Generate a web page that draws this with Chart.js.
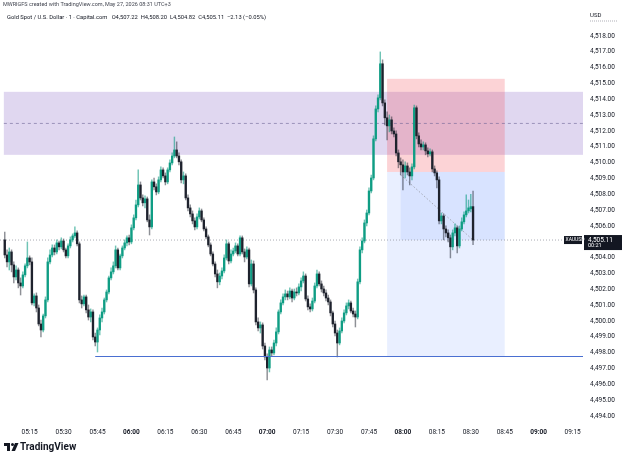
<!DOCTYPE html>
<html>
<head>
<meta charset="utf-8">
<title>XAUUSD 1m</title>
<script src="https://cdn.jsdelivr.net/npm/chart.js@4.4.1/dist/chart.umd.min.js"></script>
<style>
  html, body { margin: 0; padding: 0; background: #fff; }
  #wrap { width: 625px; height: 458px; }
</style>
</head>
<body>
<div id="wrap"><canvas id="chart" width="625" height="458"></canvas></div>
<script>
// 1-minute candles, first one at 05:04, last one at 08:31
const firstCandle = '05:04';

const opens = [
  4505.12, 4504.17, 4503.73, 4504.36, 4503.54, 4502.78, 4503.22, 4502.40, 4502.21, 4502.91,
  4503.48, 4503.98, 4503.73, 4501.14, 4501.58, 4500.82, 4499.81, 4499.43, 4500.32, 4501.33,
  4503.73, 4504.17, 4504.61, 4504.36, 4504.93, 4504.68, 4505.05, 4504.49, 4504.11, 4504.74,
  4505.12, 4505.37, 4505.56, 4504.87, 4501.33, 4501.08, 4501.52, 4500.70, 4500.25, 4500.57,
  4498.99, 4498.67, 4499.43, 4500.19, 4500.57, 4501.33, 4501.83, 4502.72, 4503.10, 4503.48,
  4504.49, 4503.35, 4504.11, 4504.61, 4504.93, 4505.25, 4504.99, 4505.88, 4506.51, 4507.33,
  4508.59, 4507.77, 4507.46, 4507.71, 4506.38, 4505.94, 4508.78, 4508.47, 4508.15, 4508.91,
  4509.54, 4509.16, 4508.78, 4509.54, 4509.98, 4510.42, 4510.80, 4510.42, 4510.05, 4508.91,
  4509.16, 4507.77, 4507.14, 4506.76, 4506.32, 4505.94, 4506.57, 4506.95, 4506.38, 4505.81,
  4505.31, 4504.80, 4504.23, 4503.60, 4502.97, 4502.47, 4502.84, 4503.16, 4503.98, 4504.87,
  4503.79, 4504.23, 4504.42, 4504.74, 4504.23, 4505.25, 4504.36, 4504.04, 4504.49, 4502.34,
  4503.60, 4501.96, 4499.94, 4499.56, 4499.75, 4498.42, 4497.73, 4497.03, 4498.17, 4497.98,
  4498.61, 4499.31, 4500.57, 4501.14, 4501.52, 4501.71, 4501.52, 4501.89, 4501.45, 4501.83,
  4501.77, 4502.15, 4502.53, 4502.84, 4501.39, 4500.89, 4500.76, 4501.26, 4502.21, 4502.97,
  4502.34, 4502.02, 4501.77, 4501.45, 4501.20, 4500.51, 4499.81, 4499.24, 4498.61, 4499.37,
  4500.00, 4500.51, 4500.95, 4501.14, 4500.63, 4500.44, 4500.25, 4502.47, 4504.49, 4505.05,
  4506.19, 4506.82, 4508.21, 4509.03, 4511.50, 4513.39, 4514.09, 4516.24, 4513.77, 4512.83,
  4512.32, 4512.70, 4512.00, 4511.81, 4510.61, 4510.05, 4509.86, 4509.41, 4509.79, 4509.41,
  4509.16, 4509.73, 4513.46, 4511.69, 4511.18, 4510.99, 4511.12, 4510.74, 4510.55, 4510.68,
  4509.60, 4509.35, 4508.91, 4506.32, 4506.63, 4505.81, 4505.56, 4505.25, 4504.68, 4505.56,
  4505.88, 4504.74, 4505.81, 4506.26, 4506.70, 4506.95, 4507.08, 4507.22
];

const highs = [
  4505.62, 4504.49, 4504.61, 4504.49, 4503.73, 4503.48, 4503.35, 4502.72, 4503.10, 4503.60,
  4504.99, 4504.11, 4503.98, 4501.71, 4501.77, 4501.01, 4500.06, 4500.44, 4501.52, 4503.98,
  4504.49, 4504.80, 4504.80, 4505.12, 4505.05, 4505.25, 4505.18, 4504.61, 4504.87, 4505.31,
  4505.50, 4505.94, 4505.69, 4504.99, 4501.58, 4501.64, 4501.64, 4501.01, 4500.76, 4500.70,
  4499.24, 4499.56, 4500.38, 4500.82, 4501.45, 4501.96, 4502.84, 4503.35, 4503.73, 4504.74,
  4504.61, 4504.23, 4504.74, 4505.12, 4505.37, 4505.43, 4506.07, 4506.70, 4507.64, 4509.54,
  4508.78, 4507.96, 4507.90, 4507.83, 4506.70, 4508.91, 4509.03, 4508.66, 4509.10, 4509.73,
  4509.67, 4509.35, 4509.67, 4510.17, 4510.61, 4511.62, 4511.31, 4510.61, 4510.17, 4509.41,
  4509.29, 4507.96, 4507.33, 4506.95, 4506.51, 4506.76, 4507.14, 4507.07, 4506.51, 4505.94,
  4505.43, 4504.93, 4504.36, 4503.73, 4503.22, 4503.03, 4503.35, 4504.17, 4505.12, 4504.99,
  4504.49, 4504.61, 4504.93, 4504.87, 4505.37, 4505.37, 4504.55, 4504.68, 4504.61, 4503.85,
  4503.79, 4502.09, 4500.19, 4499.94, 4499.88, 4498.61, 4497.92, 4498.36, 4498.36, 4498.80,
  4499.56, 4500.70, 4501.33, 4501.71, 4501.96, 4501.89, 4502.09, 4502.02, 4502.02, 4502.09,
  4502.34, 4502.72, 4503.10, 4502.97, 4501.58, 4501.08, 4501.45, 4502.40, 4503.22, 4503.10,
  4502.53, 4502.21, 4501.96, 4501.64, 4501.33, 4500.63, 4500.00, 4499.43, 4499.56, 4500.19,
  4500.70, 4501.14, 4501.33, 4501.26, 4500.82, 4500.63, 4502.65, 4504.68, 4505.25, 4506.38,
  4507.01, 4508.40, 4509.22, 4511.69, 4513.58, 4514.28, 4516.99, 4516.49, 4513.96, 4513.20,
  4513.01, 4512.89, 4512.19, 4512.00, 4510.80, 4510.30, 4510.17, 4510.05, 4509.98, 4509.67,
  4509.92, 4513.64, 4513.58, 4511.88, 4511.44, 4511.31, 4511.25, 4510.93, 4510.87, 4510.80,
  4509.79, 4509.48, 4509.10, 4506.82, 4506.76, 4506.00, 4505.75, 4505.43, 4505.75, 4506.13,
  4506.00, 4506.00, 4506.51, 4506.89, 4507.96, 4507.64, 4508.00, 4508.20
];

const lows = [
  4503.98, 4503.41, 4503.22, 4503.10, 4502.40, 4502.59, 4502.09, 4501.64, 4502.09, 4502.78,
  4503.35, 4503.54, 4501.01, 4500.95, 4500.57, 4499.69, 4498.99, 4499.31, 4500.19, 4501.20,
  4503.60, 4504.04, 4504.17, 4504.23, 4504.49, 4504.55, 4504.36, 4503.98, 4503.98, 4504.61,
  4504.99, 4505.25, 4504.74, 4501.14, 4500.82, 4500.95, 4500.51, 4500.06, 4499.94, 4498.80,
  4498.42, 4498.04, 4499.12, 4499.94, 4500.44, 4501.20, 4501.71, 4502.59, 4502.97, 4503.35,
  4503.22, 4503.22, 4503.98, 4504.49, 4504.74, 4504.80, 4504.87, 4505.75, 4506.38, 4507.20,
  4507.64, 4507.26, 4507.14, 4506.26, 4505.43, 4505.81, 4508.28, 4507.96, 4508.03, 4508.78,
  4509.03, 4508.59, 4508.66, 4509.41, 4509.86, 4510.30, 4510.30, 4509.86, 4508.72, 4508.66,
  4507.64, 4506.95, 4506.57, 4506.13, 4505.75, 4505.81, 4506.44, 4506.26, 4505.69, 4505.18,
  4504.68, 4504.11, 4503.48, 4502.78, 4502.09, 4502.28, 4502.65, 4503.03, 4503.85, 4503.60,
  4503.67, 4504.11, 4504.30, 4504.11, 4504.11, 4504.23, 4503.73, 4503.92, 4502.15, 4502.21,
  4501.77, 4499.75, 4499.37, 4499.24, 4498.23, 4497.54, 4496.27, 4496.78, 4497.79, 4497.85,
  4498.42, 4499.18, 4500.44, 4501.01, 4501.33, 4501.33, 4501.39, 4501.20, 4501.33, 4501.58,
  4501.64, 4501.89, 4502.40, 4501.26, 4500.70, 4500.57, 4500.63, 4501.14, 4502.09, 4502.21,
  4501.83, 4501.58, 4501.26, 4501.01, 4500.32, 4499.62, 4499.05, 4497.73, 4498.49, 4499.24,
  4499.88, 4500.38, 4500.76, 4500.51, 4500.25, 4499.62, 4500.13, 4502.34, 4504.30, 4504.93,
  4506.00, 4506.70, 4508.09, 4508.91, 4511.37, 4513.20, 4513.96, 4513.58, 4512.38, 4511.44,
  4511.94, 4511.81, 4511.62, 4510.42, 4509.67, 4509.22, 4508.28, 4509.03, 4509.22, 4508.59,
  4508.91, 4509.60, 4511.50, 4510.99, 4510.80, 4510.80, 4510.49, 4510.36, 4510.42, 4509.41,
  4509.16, 4508.40, 4506.13, 4506.13, 4505.12, 4505.31, 4504.99, 4503.98, 4504.49, 4505.37,
  4504.30, 4504.61, 4505.69, 4506.13, 4506.57, 4506.82, 4506.89, 4504.82
];

const closes = [
  4504.17, 4503.73, 4504.36, 4503.54, 4502.78, 4503.22, 4502.40, 4502.21, 4502.91, 4503.48,
  4503.98, 4503.73, 4501.14, 4501.58, 4500.82, 4499.81, 4499.43, 4500.32, 4501.33, 4503.73,
  4504.17, 4504.61, 4504.36, 4504.93, 4504.68, 4505.05, 4504.49, 4504.11, 4504.74, 4505.12,
  4505.37, 4505.56, 4504.87, 4501.33, 4501.08, 4501.52, 4500.70, 4500.25, 4500.57, 4498.99,
  4498.67, 4499.43, 4500.19, 4500.57, 4501.33, 4501.83, 4502.72, 4503.10, 4503.48, 4504.49,
  4503.35, 4504.11, 4504.61, 4504.93, 4505.25, 4504.99, 4505.88, 4506.51, 4507.33, 4508.59,
  4507.77, 4507.46, 4507.71, 4506.38, 4505.94, 4508.78, 4508.47, 4508.15, 4508.91, 4509.54,
  4509.16, 4508.78, 4509.54, 4509.98, 4510.42, 4510.80, 4510.42, 4510.05, 4508.91, 4509.16,
  4507.77, 4507.14, 4506.76, 4506.32, 4505.94, 4506.57, 4506.95, 4506.38, 4505.81, 4505.31,
  4504.80, 4504.23, 4503.60, 4502.97, 4502.47, 4502.84, 4503.16, 4503.98, 4504.87, 4503.79,
  4504.23, 4504.42, 4504.74, 4504.23, 4505.25, 4504.36, 4504.04, 4504.49, 4502.34, 4503.60,
  4501.96, 4499.94, 4499.56, 4499.75, 4498.42, 4497.73, 4497.03, 4498.17, 4497.98, 4498.61,
  4499.31, 4500.57, 4501.14, 4501.52, 4501.71, 4501.52, 4501.89, 4501.45, 4501.83, 4501.77,
  4502.15, 4502.53, 4502.84, 4501.39, 4500.89, 4500.76, 4501.26, 4502.21, 4502.97, 4502.34,
  4502.02, 4501.77, 4501.45, 4501.20, 4500.51, 4499.81, 4499.24, 4498.61, 4499.37, 4500.00,
  4500.51, 4500.95, 4501.14, 4500.63, 4500.44, 4500.25, 4502.47, 4504.49, 4505.05, 4506.19,
  4506.82, 4508.21, 4509.03, 4511.50, 4513.39, 4514.09, 4516.24, 4513.77, 4512.83, 4512.32,
  4512.70, 4512.00, 4511.81, 4510.61, 4510.05, 4509.86, 4509.41, 4509.79, 4509.41, 4509.16,
  4509.73, 4513.46, 4511.69, 4511.18, 4510.99, 4511.12, 4510.74, 4510.55, 4510.68, 4509.60,
  4509.35, 4508.91, 4506.32, 4506.63, 4505.81, 4505.56, 4505.25, 4504.68, 4505.56, 4505.88,
  4504.74, 4505.81, 4506.26, 4506.70, 4506.95, 4507.14, 4507.22, 4505.11
];

const timeTicks = ['05:15', '05:30', '05:45', '06:00', '06:15', '06:30', '06:45', '07:00', '07:15',
  '07:30', '07:45', '08:00', '08:15', '08:30', '08:45', '09:00', '09:15'];
const priceTicks = [4494, 4495, 4496, 4497, 4498, 4499, 4500, 4501, 4502, 4503, 4504, 4505, 4506,
  4507, 4508, 4509, 4510, 4511, 4512, 4513, 4514, 4515, 4516, 4517, 4518];

// drawings on the chart
const zoneStart = '05:04';
const zoneTop = 4514.47;
const zoneMid = 4512.48;
const zoneBottom = 4510.49;
const posStart = '07:53';
const posFill = '07:59';
const posEnd = '08:45';
const stopPrice = 4515.29;
const entryPrice = 4509.41;
const targetPrice = 4497.73;
const supportStart = '05:44';
const supportPrice = 4497.78;
const lastPrice = 4505.11;

const upColor = '#0f9d84';
const downColor = '#1e222d';

function toMin(t) {
  const p = t.split(':');
  return parseInt(p[0]) * 60 + parseInt(p[1]);
}
function fmtPrice(v) {
  return v.toLocaleString('en-US', { minimumFractionDigits: 2, maximumFractionDigits: 2 });
}

const t0 = toMin(firstCandle);
const xs = closes.map((c, i) => t0 + i);
const isUp = closes.map((c, i) => c >= opens[i]);

const overlay = {
  id: 'overlay',
  beforeDatasetsDraw(chart) {
    const { ctx, chartArea: a, scales: { x, y } } = chart;
    ctx.save();
    ctx.beginPath();
    ctx.rect(a.left, a.top, a.right - a.left, a.bottom - a.top);
    ctx.clip();

    // purple zone
    const zx = x.getPixelForValue(toMin(zoneStart) - 0.4);
    const zt = y.getPixelForValue(zoneTop), zb = y.getPixelForValue(zoneBottom);
    ctx.fillStyle = 'rgba(126, 87, 194, 0.24)';
    ctx.fillRect(zx, zt, a.right - zx, zb - zt);

    // short position box
    const p1 = x.getPixelForValue(toMin(posStart)), p2 = x.getPixelForValue(toMin(posEnd));
    const ys = y.getPixelForValue(stopPrice), ye = y.getPixelForValue(entryPrice);
    const yt = y.getPixelForValue(targetPrice), yl = y.getPixelForValue(lastPrice);
    ctx.fillStyle = 'rgba(242, 54, 69, 0.22)';
    ctx.fillRect(p1, ys, p2 - p1, ye - ys);
    ctx.fillStyle = 'rgba(41, 98, 255, 0.1)';
    ctx.fillRect(p1, ye, p2 - p1, yt - ye);
    const pf = x.getPixelForValue(toMin(posFill));
    ctx.fillStyle = 'rgba(41, 98, 255, 0.09)';
    ctx.fillRect(pf, ye, p2 - pf, yl - ye);

    // zone mid line
    const zm = y.getPixelForValue(zoneMid);
    ctx.strokeStyle = 'rgba(110, 100, 150, 0.75)';
    ctx.lineWidth = 0.8;
    ctx.setLineDash([3, 3]);
    ctx.beginPath();
    ctx.moveTo(zx, zm);
    ctx.lineTo(a.right, zm);
    ctx.stroke();

    // last price line
    ctx.strokeStyle = '#9598a1';
    ctx.setLineDash([1, 2]);
    ctx.beginPath();
    ctx.moveTo(a.left, yl);
    ctx.lineTo(a.right, yl);
    ctx.stroke();

    // position progress line
    ctx.strokeStyle = '#9598a1';
    ctx.setLineDash([1.5, 2]);
    ctx.beginPath();
    ctx.moveTo(pf, ye + 3);
    ctx.lineTo(x.getPixelForValue(xs[xs.length - 1]), yl);
    ctx.stroke();
    ctx.restore();
  },
  afterDatasetsDraw(chart) {
    const { ctx, chartArea: a, scales: { x, y } } = chart;
    ctx.save();
    const sy = Math.round(y.getPixelForValue(supportPrice)) + 0.5;
    ctx.strokeStyle = '#4a6fd1';
    ctx.lineWidth = 1;
    ctx.beginPath();
    ctx.moveTo(x.getPixelForValue(toMin(supportStart)), sy);
    ctx.lineTo(a.right, sy);
    ctx.stroke();
    ctx.restore();
  },
  afterDraw(chart) {
    const { ctx, chartArea: a, scales: { y } } = chart;
    ctx.save();
    ctx.textBaseline = 'middle';

    // header
    ctx.fillStyle = '#434651';
    ctx.font = '5.5px Roboto, sans-serif';
    ctx.fillText('MWRIGFS created with TradingView.com, May 27, 2026 08:31 UTC+3', 3, 5);
    ctx.fillStyle = '#131722';
    ctx.font = '5.8px Roboto, sans-serif';
    ctx.fillText('Gold Spot / U.S. Dollar \u00b7 1 \u00b7 Capital.com   O4,507.22  H4,508.20  L4,504.82  C4,505.11  \u22122.13 (\u22120.05%)', 7, 17.5);

    // currency on the price scale
    ctx.fillStyle = '#131722';
    ctx.font = '6px Roboto, sans-serif';
    ctx.fillText('USD', a.right + 7, 15);
    ctx.strokeStyle = '#787b86';
    ctx.lineWidth = 0.6;
    ctx.setLineDash([1, 1]);
    ctx.beginPath();
    ctx.moveTo(a.right + 7, 21);
    ctx.lineTo(a.right + 34, 21);
    ctx.stroke();
    ctx.setLineDash([]);

    // last price labels
    const yl = y.getPixelForValue(lastPrice);
    ctx.fillStyle = '#131722';
    ctx.fillRect(a.right - 19, yl - 4, 18, 8);
    ctx.fillRect(a.right + 1, yl - 5, 38, 15);
    ctx.fillStyle = '#ffffff';
    ctx.font = '5px Roboto, sans-serif';
    ctx.fillText('XAUUSD', a.right - 17.5, yl);
    ctx.font = '6.5px Roboto, sans-serif';
    ctx.fillText(fmtPrice(lastPrice), a.right + 5, yl);
    ctx.font = '5.5px Roboto, sans-serif';
    ctx.fillText('00:21', a.right + 5, yl + 6);

    // TradingView mark
    ctx.fillStyle = '#131722';
    ctx.fillRect(4, 443, 6, 3);
    ctx.fillRect(7, 443, 3, 8);
    ctx.beginPath();
    ctx.arc(12.5, 444.5, 1.5, 0, Math.PI * 2);
    ctx.fill();
    ctx.beginPath();
    ctx.moveTo(15, 443);
    ctx.lineTo(18.5, 443);
    ctx.lineTo(15, 451);
    ctx.lineTo(11.5, 451);
    ctx.closePath();
    ctx.fill();
    ctx.font = 'bold 10px Roboto, sans-serif';
    ctx.fillText('TradingView', 20, 447.5);
    ctx.restore();
  }
};

const ctx = document.getElementById('chart').getContext('2d');
new Chart(ctx, {
  type: 'bar',
  data: {
    datasets: [
      {
        label: 'wicks',
        data: xs.map((t, i) => ({ x: t, y: [lows[i], highs[i]] })),
        backgroundColor: isUp.map(u => u ? 'rgba(15,157,132,0.6)' : 'rgba(30,34,45,0.5)'),
        barThickness: 0.8,
        grouped: false,
        order: 2
      },
      {
        label: 'bodies',
        data: xs.map((t, i) => ({ x: t, y: [opens[i], closes[i]] })),
        backgroundColor: isUp.map(u => u ? upColor : downColor),
        barThickness: 1.7,
        grouped: false,
        order: 1
      }
    ]
  },
  options: {
    responsive: false,
    animation: false,
    layout: { padding: { top: 25, left: 0, right: 0, bottom: 18 } },
    plugins: { legend: { display: false }, tooltip: { enabled: false } },
    scales: {
      x: {
        type: 'linear',
        offset: false,
        min: 301.9,
        max: 559.6,
        grid: { display: false, drawTicks: false },
        border: { display: false },
        afterBuildTicks: s => { s.ticks = timeTicks.map(t => ({ value: toMin(t) })); },
        afterFit: s => { s.height = 15; s.paddingLeft = 0; s.paddingRight = 0; },
        ticks: {
          autoSkip: false,
          maxRotation: 0,
          padding: 3,
          color: '#131722',
          font: c => ({ family: 'Roboto, sans-serif', size: 6.5,
            weight: (c.tick && c.tick.value % 60 === 0) ? 'bold' : 'normal' }),
          callback: v => timeTicks.find(t => toMin(t) === v) || ''
        }
      },
      y: {
        position: 'right',
        min: 4493.43,
        max: 4518.69,
        grid: { display: false, drawTicks: false },
        border: { display: false },
        afterBuildTicks: s => { s.ticks = priceTicks.map(v => ({ value: v })); },
        afterFit: s => { s.width = 42; s.paddingTop = 0; s.paddingBottom = 0; },
        ticks: {
          padding: 7,
          color: '#131722',
          font: { family: 'Roboto, sans-serif', size: 6.5 },
          callback: v => fmtPrice(v)
        }
      }
    }
  },
  plugins: [overlay]
});
</script>
</body>
</html>
